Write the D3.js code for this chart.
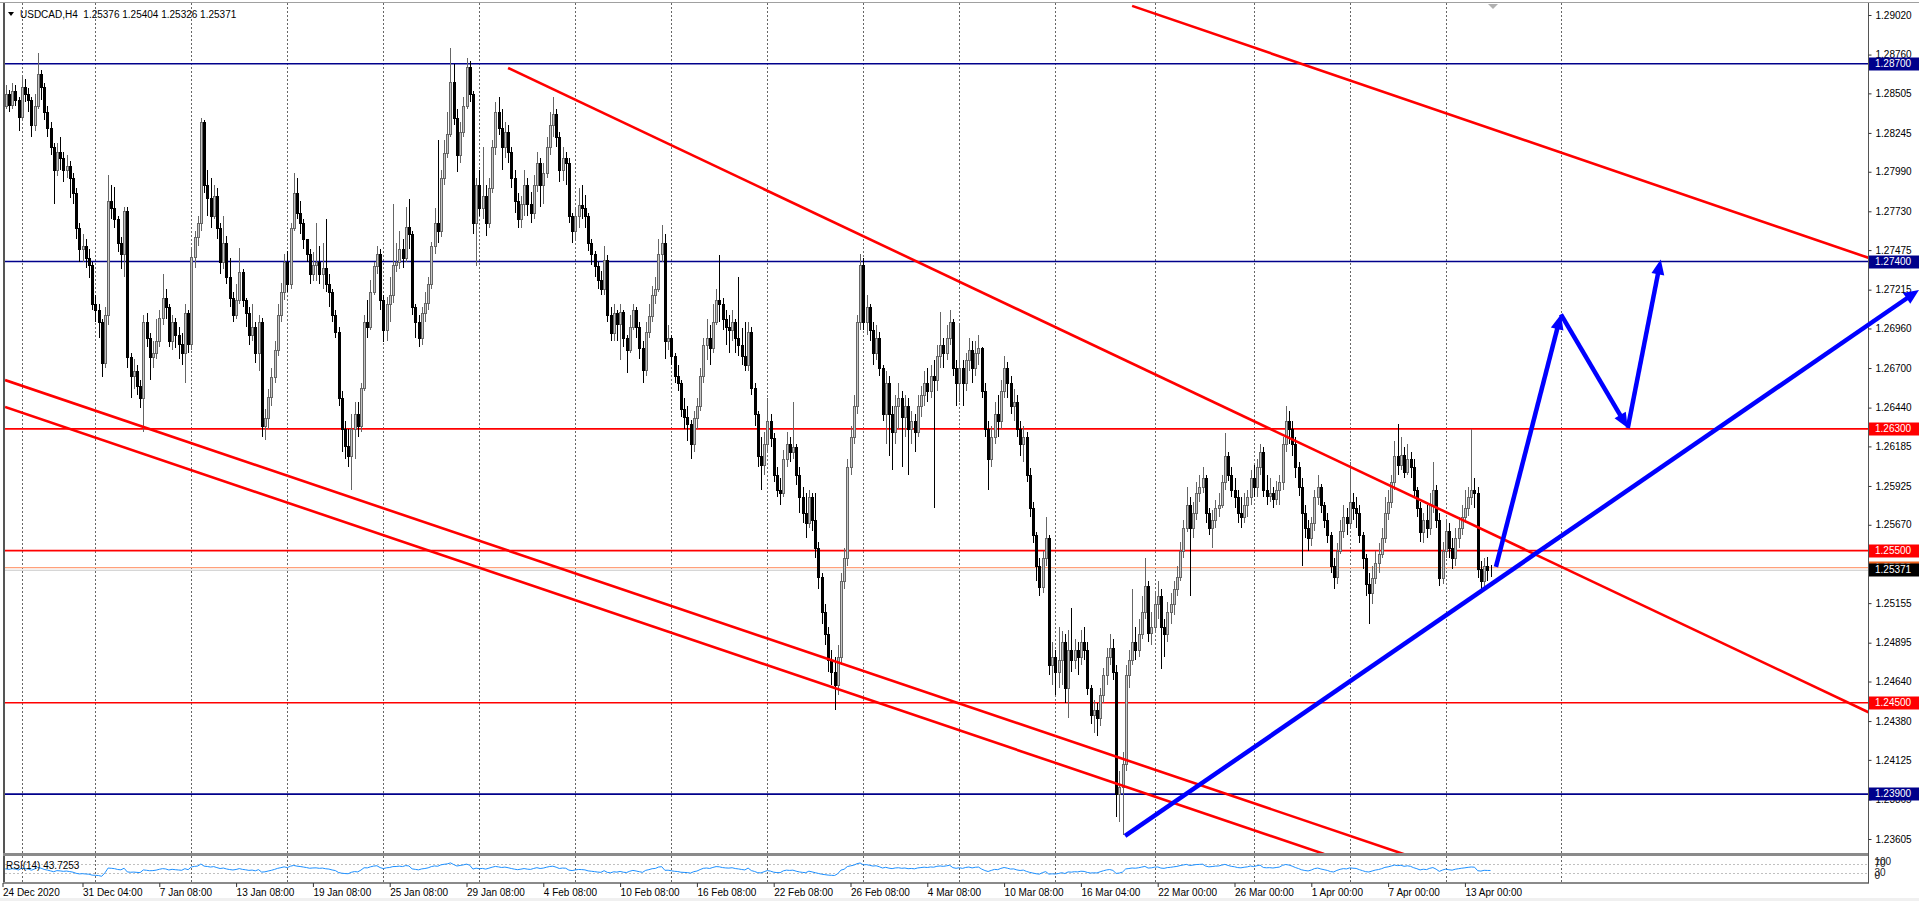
<!DOCTYPE html>
<html>
<head>
<meta charset="utf-8">
<script src="https://cdn.jsdelivr.net/npm/d3@7"></script>
<style>
  html, body { margin: 0; padding: 0; background: #fff; overflow: hidden; }
  svg { display: block; font-family: "Liberation Sans", Arial, sans-serif; }
</style>
</head>
<body>
<svg id="chart" width="1919" height="901"></svg>
<script>
// USDCAD H4 candles, one value per bar (open = previous close)
const firstOpen = 1.2850;

const closes = [
1.2842,1.2850,1.2843,1.2852,1.2846,1.2835,1.2855,1.2850,1.2846,1.2830,
1.2842,1.2863,1.2855,1.2838,1.2828,1.2815,1.2800,1.2812,1.2808,1.2800,
1.2803,1.2795,1.2785,1.2762,1.2748,1.2750,1.2742,1.2738,1.2712,1.2708,
1.2700,1.2673,1.2705,1.2780,1.2775,1.2768,1.2752,1.2745,1.2773,1.2677,
1.2665,1.2668,1.2658,1.2650,1.2700,1.2690,1.2677,1.2680,1.2688,1.2703,
1.2716,1.2710,1.2688,1.2700,1.2692,1.2686,1.2680,1.2706,1.2686,1.2743,
1.2756,1.2765,1.2832,1.2790,1.2782,1.2770,1.2783,1.2762,1.2740,1.2752,
1.2730,1.2716,1.2705,1.2715,1.2733,1.2715,1.2706,1.2692,1.2697,1.2680,
1.2700,1.2632,1.2637,1.2651,1.2664,1.2682,1.2705,1.2720,1.2740,1.2725,
1.2762,1.2785,1.2772,1.2765,1.2755,1.2745,1.2732,1.2738,1.2740,1.2732,
1.2736,1.2725,1.2720,1.2705,1.2694,1.2650,1.2630,1.2619,1.2612,1.2630,
1.2640,1.2632,1.2657,1.2700,1.2697,1.2720,1.2737,1.2745,1.2715,1.2695,
1.2712,1.2718,1.2738,1.2740,1.2748,1.2742,1.2763,1.2758,1.2710,1.2700,
1.2690,1.2706,1.2713,1.2725,1.2750,1.2765,1.2760,1.2795,1.2811,1.2824,
1.2858,1.2834,1.2810,1.2825,1.2842,1.2868,1.2850,1.2765,1.2790,1.2775,
1.2783,1.2765,1.2788,1.2815,1.2838,1.2828,1.2815,1.2825,1.2812,1.2795,
1.2780,1.2768,1.2778,1.2790,1.2778,1.2772,1.2790,1.2805,1.2790,1.2798,
1.2815,1.2830,1.2837,1.2822,1.2800,1.2808,1.2805,1.2770,1.2760,1.2770,
1.2777,1.2775,1.2770,1.2752,1.2745,1.2737,1.2728,1.2722,1.2741,1.2705,
1.2693,1.2706,1.2699,1.2707,1.2690,1.2682,1.2697,1.2708,1.2697,1.2683,
1.2669,1.2694,1.2704,1.2718,1.2722,1.2745,1.2752,1.2688,1.2690,1.2678,
1.2665,1.2660,1.2643,1.2638,1.2633,1.2620,1.2637,1.2645,1.2665,1.2685,
1.2690,1.2683,1.2700,1.2715,1.2712,1.2702,1.2697,1.2695,1.2700,1.2690,
1.2685,1.2678,1.2672,1.2694,1.2657,1.2640,1.2612,1.2606,1.2620,1.2635,
1.2624,1.2600,1.2590,1.2588,1.2610,1.2620,1.2615,1.2618,1.2600,1.2585,
1.2575,1.2568,1.2585,1.2570,1.2552,1.2533,1.2510,1.2495,1.2478,1.2470,
1.2462,1.2480,1.2530,1.2545,1.2605,1.2625,1.2645,1.2700,1.2738,1.2700,
1.2710,1.2695,1.2680,1.2690,1.2670,1.2640,1.2660,1.2640,1.2628,1.2645,
1.2650,1.2638,1.2645,1.2630,1.2635,1.2628,1.2645,1.2652,1.2660,1.2655,
1.2665,1.2662,1.2678,1.2685,1.2680,1.2690,1.2700,1.2670,1.2660,1.2670,
1.2660,1.2675,1.2682,1.2670,1.2680,1.2683,1.2655,1.2630,1.2610,1.2625,
1.2640,1.2635,1.2655,1.2670,1.2660,1.2645,1.2648,1.2630,1.2620,1.2625,
1.2600,1.2578,1.2560,1.2540,1.2526,1.2545,1.2558,1.2475,1.2480,1.2470,
1.2478,1.2490,1.2460,1.2485,1.2478,1.2485,1.2480,1.2490,1.2485,1.2460,
1.2442,1.2445,1.2440,1.2455,1.2468,1.2480,1.2486,1.2470,1.2390,1.2395,
1.2410,1.2468,1.2478,1.2490,1.2485,1.2495,1.2510,1.2527,1.2496,1.2500,
1.2515,1.2520,1.2500,1.2495,1.2510,1.2515,1.2525,1.2533,1.2550,1.2565,
1.2580,1.2565,1.2575,1.2588,1.2592,1.2598,1.2575,1.2565,1.2570,1.2578,
1.2580,1.2595,1.2612,1.2600,1.2590,1.2585,1.2575,1.2572,1.2580,1.2585,
1.2598,1.2592,1.2605,1.2615,1.2590,1.2586,1.2588,1.2584,1.2590,1.2595,
1.2620,1.2635,1.2630,1.2620,1.2605,1.2592,1.2575,1.2565,1.2558,1.2568,
1.2585,1.2592,1.2580,1.2570,1.2560,1.2540,1.2533,1.2550,1.2563,1.2572,
1.2568,1.2582,1.2578,1.2575,1.2560,1.2545,1.2528,1.2522,1.2532,1.2542,
1.2548,1.2558,1.2575,1.2582,1.2595,1.2612,1.2606,1.2613,1.2602,1.2610,
1.2605,1.2590,1.2578,1.2562,1.2570,1.2565,1.2580,1.2590,1.2570,1.2532,
1.2550,1.2563,1.2552,1.2545,1.2558,1.2565,1.2572,1.2578,1.2585,1.2590,
1.2588,1.2538,1.2530,1.2540,1.25376,1.25371
];

const highs = [
1.2855,1.2856,1.2853,1.2857,1.2856,1.2848,1.2862,1.2860,1.2854,1.2848,
1.2850,1.2877,1.2866,1.2857,1.2842,1.2832,1.2818,1.2818,1.2822,1.2812,
1.2810,1.2806,1.2798,1.2788,1.2765,1.2758,1.2755,1.2748,1.2740,1.2718,
1.2712,1.2702,1.2710,1.2797,1.2790,1.2789,1.2770,1.2756,1.2776,1.2776,
1.2680,1.2676,1.2672,1.2662,1.2705,1.2706,1.2693,1.2688,1.2702,1.2708,
1.2732,1.2722,1.2712,1.2705,1.2703,1.2697,1.2693,1.2712,1.2708,1.2748,
1.2760,1.2770,1.2834,1.2833,1.2800,1.2795,1.2790,1.2788,1.2765,1.2770,
1.2757,1.2742,1.2720,1.2725,1.2749,1.2735,1.2716,1.2710,1.2712,1.2700,
1.2705,1.2703,1.2643,1.2656,1.2670,1.2688,1.2712,1.2726,1.2745,1.2747,
1.2765,1.2798,1.2795,1.2780,1.2768,1.2755,1.2748,1.2746,1.2765,1.2750,
1.2752,1.2768,1.2732,1.2722,1.2708,1.2697,1.2655,1.2635,1.2630,1.2640,
1.2648,1.2648,1.2660,1.2705,1.2715,1.2728,1.2740,1.2750,1.2748,1.2718,
1.2717,1.2730,1.2778,1.2752,1.2760,1.2755,1.2776,1.2781,1.2760,1.2712,
1.2705,1.2710,1.2720,1.2730,1.2753,1.2775,1.2820,1.2800,1.2820,1.2838,
1.2880,1.2870,1.2840,1.2832,1.2848,1.2874,1.2872,1.2852,1.2795,1.2800,
1.2815,1.2790,1.2795,1.2820,1.2845,1.2848,1.2840,1.2832,1.2830,1.2815,
1.2800,1.2785,1.2783,1.2800,1.2795,1.2786,1.2797,1.2812,1.2808,1.2805,
1.2822,1.2838,1.2848,1.2840,1.2825,1.2815,1.2812,1.2808,1.2772,1.2775,
1.2788,1.2790,1.2784,1.2772,1.2755,1.2747,1.2740,1.2734,1.2750,1.2744,
1.2710,1.2712,1.2708,1.2712,1.2708,1.2692,1.2705,1.2712,1.2710,1.2700,
1.2688,1.2700,1.2712,1.2724,1.2730,1.2755,1.2764,1.2758,1.2698,1.2692,
1.2680,1.2672,1.2662,1.2650,1.2645,1.2636,1.2642,1.2650,1.2670,1.2690,
1.2702,1.2698,1.2712,1.2722,1.2744,1.2716,1.2708,1.2705,1.2708,1.2702,
1.2730,1.2696,1.2700,1.2700,1.2697,1.2660,1.2642,1.2625,1.2628,1.2650,
1.2640,1.2627,1.2605,1.2598,1.2616,1.2628,1.2625,1.2648,1.2620,1.2605,
1.2592,1.2588,1.2590,1.2588,1.2588,1.2556,1.2535,1.2515,1.2500,1.2485,
1.2480,1.2488,1.2535,1.2552,1.2610,1.2632,1.2652,1.2705,1.2745,1.2742,
1.2718,1.2712,1.2700,1.2698,1.2694,1.2672,1.2668,1.2665,1.2645,1.2652,
1.2660,1.2655,1.2652,1.2650,1.2642,1.2640,1.2652,1.2658,1.2668,1.2670,
1.2672,1.2675,1.2685,1.2707,1.2690,1.2698,1.2708,1.2702,1.2675,1.2698,
1.2675,1.2680,1.2690,1.2688,1.2688,1.2692,1.2684,1.2660,1.2635,1.2632,
1.2648,1.2652,1.2662,1.2678,1.2674,1.2665,1.2656,1.2652,1.2635,1.2632,
1.2628,1.2604,1.2582,1.2562,1.2545,1.2550,1.2572,1.2560,1.2490,1.2485,
1.2500,1.2497,1.2495,1.2498,1.2512,1.2492,1.2490,1.2498,1.2500,1.2490,
1.2462,1.2452,1.2450,1.2460,1.2473,1.2486,1.2495,1.2492,1.2475,1.2405,
1.2418,1.2475,1.2485,1.2525,1.2500,1.2505,1.2520,1.2545,1.2530,1.2510,
1.2522,1.2530,1.2525,1.2505,1.2516,1.2522,1.2530,1.2540,1.2556,1.2570,
1.2592,1.2585,1.2582,1.2595,1.2600,1.2605,1.2600,1.2578,1.2577,1.2583,
1.2588,1.2600,1.2627,1.2615,1.2605,1.2598,1.2590,1.2585,1.2588,1.2590,
1.2603,1.2606,1.2610,1.2620,1.2618,1.2600,1.2598,1.2592,1.2596,1.2600,
1.2625,1.2645,1.2642,1.2635,1.2625,1.2608,1.2598,1.2580,1.2570,1.2572,
1.2590,1.2600,1.2594,1.2582,1.2575,1.2562,1.2545,1.2555,1.2570,1.2580,
1.2578,1.2608,1.2588,1.2585,1.2580,1.2562,1.2548,1.2535,1.2540,1.2550,
1.2555,1.2565,1.2585,1.2590,1.2600,1.2622,1.2633,1.2625,1.2618,1.2620,
1.2615,1.2610,1.2592,1.2582,1.2575,1.2580,1.2588,1.2608,1.2593,1.2575,
1.2556,1.2570,1.2568,1.2558,1.2565,1.2572,1.2580,1.2590,1.2592,1.2630,
1.2598,1.2592,1.2543,1.2545,1.2546,1.25404
];

const lows = [
1.2836,1.2840,1.2838,1.2840,1.2842,1.2826,1.2833,1.2845,1.2838,1.2822,
1.2826,1.2840,1.2846,1.2833,1.2822,1.2810,1.2778,1.2796,1.2800,1.2792,
1.2795,1.2782,1.2778,1.2755,1.2740,1.2740,1.2736,1.2729,1.2708,1.2700,
1.2690,1.2664,1.2670,1.2698,1.2768,1.2762,1.2746,1.2735,1.2730,1.2670,
1.2650,1.2656,1.2652,1.2644,1.2628,1.2684,1.2662,1.2670,1.2676,1.2684,
1.2698,1.2702,1.2684,1.2682,1.2683,1.2676,1.2672,1.2660,1.2680,1.2682,
1.2736,1.2750,1.2760,1.2785,1.2770,1.2762,1.2768,1.2755,1.2732,1.2735,
1.2725,1.2710,1.2700,1.2702,1.2712,1.2710,1.2697,1.2685,1.2688,1.2673,
1.2668,1.2625,1.2623,1.2630,1.2645,1.2660,1.2678,1.2700,1.2715,1.2720,
1.2722,1.2760,1.2768,1.2758,1.2748,1.2740,1.2725,1.2727,1.2727,1.2725,
1.2722,1.2720,1.2710,1.2700,1.2690,1.2645,1.2615,1.2610,1.2605,1.2590,
1.2610,1.2625,1.2628,1.2655,1.2690,1.2695,1.2718,1.2732,1.2708,1.2687,
1.2688,1.2700,1.2713,1.2733,1.2735,1.2736,1.2740,1.2748,1.2705,1.2690,
1.2684,1.2685,1.2700,1.2708,1.2722,1.2745,1.2752,1.2756,1.2790,1.2808,
1.2822,1.2830,1.2799,1.2805,1.2822,1.2840,1.2845,1.2758,1.2737,1.2770,
1.2768,1.2757,1.2762,1.2785,1.2810,1.2823,1.2800,1.2808,1.2805,1.2788,
1.2772,1.2762,1.2762,1.2770,1.2770,1.2765,1.2768,1.2786,1.2776,1.2778,
1.2795,1.2810,1.2822,1.2815,1.2792,1.2793,1.2790,1.2765,1.2752,1.2755,
1.2762,1.2768,1.2762,1.2747,1.2738,1.2730,1.2722,1.2718,1.2718,1.2700,
1.2688,1.2688,1.2688,1.2675,1.2684,1.2667,1.2680,1.2695,1.2690,1.2676,
1.2660,1.2665,1.2690,1.2700,1.2712,1.2720,1.2740,1.2676,1.2682,1.2672,
1.2660,1.2655,1.2638,1.2630,1.2622,1.2610,1.2615,1.2630,1.2642,1.2660,
1.2675,1.2672,1.2680,1.2698,1.2700,1.2695,1.2685,1.2680,1.2688,1.2680,
1.2678,1.2672,1.2668,1.2668,1.2652,1.2632,1.2605,1.2590,1.2600,1.2615,
1.2618,1.2595,1.2585,1.2580,1.2585,1.2605,1.2608,1.2610,1.2593,1.2575,
1.2568,1.2558,1.2565,1.2563,1.2545,1.2525,1.2502,1.2488,1.2470,1.2462,
1.2445,1.2455,1.2475,1.2525,1.2540,1.2600,1.2620,1.2640,1.2695,1.2695,
1.2692,1.2688,1.2672,1.2675,1.2665,1.2635,1.2620,1.2612,1.2603,1.2620,
1.2630,1.2605,1.2625,1.2600,1.2620,1.2615,1.2625,1.2638,1.2645,1.2648,
1.2650,1.2578,1.2655,1.2670,1.2670,1.2675,1.2685,1.2665,1.2645,1.2648,
1.2645,1.2655,1.2668,1.2660,1.2665,1.2672,1.2650,1.2625,1.2590,1.2605,
1.2620,1.2625,1.2630,1.2650,1.2650,1.2640,1.2635,1.2625,1.2612,1.2608,
1.2595,1.2572,1.2555,1.2530,1.2520,1.2522,1.2540,1.2468,1.2462,1.2455,
1.2460,1.2462,1.2450,1.2440,1.2470,1.2472,1.2468,1.2475,1.2478,1.2455,
1.2436,1.2430,1.2428,1.2435,1.2450,1.2462,1.2475,1.2465,1.2375,1.2372,
1.2363,1.2405,1.2460,1.2475,1.2478,1.2480,1.2492,1.2505,1.2490,1.2488,
1.2496,1.2505,1.2472,1.2480,1.2490,1.2502,1.2508,1.2520,1.2530,1.2545,
1.2562,1.2520,1.2558,1.2570,1.2582,1.2588,1.2568,1.2560,1.2552,1.2565,
1.2572,1.2578,1.2590,1.2596,1.2585,1.2578,1.2568,1.2565,1.2568,1.2572,
1.2580,1.2585,1.2585,1.2600,1.2585,1.2580,1.2582,1.2578,1.2580,1.2580,
1.2590,1.2615,1.2620,1.2612,1.2598,1.2586,1.2540,1.2558,1.2550,1.2553,
1.2563,1.2580,1.2575,1.2565,1.2555,1.2535,1.2525,1.2528,1.2548,1.2558,
1.2560,1.2565,1.2570,1.2565,1.2555,1.2538,1.2520,1.2502,1.2515,1.2528,
1.2535,1.2545,1.2555,1.2570,1.2578,1.2590,1.2600,1.2603,1.2598,1.2600,
1.2598,1.2585,1.2572,1.2556,1.2555,1.2558,1.2560,1.2575,1.2565,1.2527,
1.2528,1.2545,1.2545,1.2538,1.2540,1.2552,1.2560,1.2568,1.2573,1.2580,
1.2578,1.2532,1.2522,1.2525,1.2530,1.25326
];

// axes (the 1.25415 step sits under the bid/ask boxes and is not visible)
const priceTicks = [1.29020,1.28760,1.28505,1.28245,1.27990,1.27730,1.27475,1.27215,1.26960,1.26700,
  1.26440,1.26185,1.25925,1.25670,1.25155,1.24895,1.24640,1.24380,1.24125,1.23865,1.23605];
const timeLabels = ["24 Dec 2020","31 Dec 04:00","7 Jan 08:00","13 Jan 08:00","19 Jan 08:00","25 Jan 08:00",
  "29 Jan 08:00","4 Feb 08:00","10 Feb 08:00","16 Feb 08:00","22 Feb 08:00","26 Feb 08:00","4 Mar 08:00",
  "10 Mar 08:00","16 Mar 04:00","22 Mar 00:00","26 Mar 00:00","1 Apr 00:00","7 Apr 00:00","13 Apr 00:00"];
const timeLabelBars = [0,25,49,73,97,121,145,169,193,217,241,265,289,313,337,361,385,409,433,457];
const weekStartBars = [6,29,59,89,119,149,179,209,239,269,299,329,360,391,421,451,487];
const rsiLevels = [70, 30];
const rsiAxisTicks = [100, 70, 30, 0];

// drawn objects (bar index, price)
const bluePrices = [1.2870, 1.2740, 1.2390];
const redPrices = [1.2630, 1.2550, 1.2450];
const askPrice = 1.25388;
const bidPrice = 1.25371;
const redTopLine = [[353.0, 1.2908], [583.3, 1.27423]];
const redMidLine = [[158.0, 1.28672], [583.3, 1.24436]];
const channelUpper = [[0.8, 1.26621], [438.3, 1.23503]];
const channelLower = [[0.8, 1.26444], [413.0, 1.23507]];
const blueTrend = [[350.8, 1.23625], [598.9, 1.27213]];
const zigzag = [[466.7, 1.25393], [487.0, 1.27052], [507.9, 1.26306], [518.2, 1.27413]];

const headerText = "USDCAD,H4  1.25376 1.25404 1.25326 1.25371";
const rsiText = "RSI(14) 43.7253";

// ---------- drawing ----------
const svg = d3.select("#chart");
const W = 1919, H = 901;
const axisX = 1868.5, mainTop = 3, mainBottom = 853, rsiTop = 856, rsiBottom = 882;

const x = d3.scaleLinear().domain([0, 100]).range([2.5, 322.5]);
const y = d3.scaleLinear().domain([1.29020, 1.23605]).range([15, 839]);
const yr = d3.scaleLinear().domain([0, 100]).range([880, 857]);

svg.append("rect").attr("width", W).attr("height", H).attr("fill", "#fff");

const defs = svg.append("defs");
defs.append("clipPath").attr("id", "mainClip").append("rect")
  .attr("x", 5).attr("y", mainTop + 0.5).attr("width", axisX - 5).attr("height", mainBottom - mainTop - 0.5);
defs.append("clipPath").attr("id", "rsiClip").append("rect")
  .attr("x", 5).attr("y", rsiTop).attr("width", axisX - 5).attr("height", rsiBottom - rsiTop);

// week grid (dotted)
const grid = svg.append("g").attr("stroke", "#666").attr("stroke-dasharray", "2,2").attr("shape-rendering", "crispEdges");
weekStartBars.forEach(b => {
  const gx = Math.round(x(b)) + 0.5;
  grid.append("line").attr("x1", gx).attr("x2", gx).attr("y1", mainTop).attr("y2", mainBottom);
  grid.append("line").attr("x1", gx).attr("x2", gx).attr("y1", rsiTop).attr("y2", rsiBottom);
});

const main = svg.append("g").attr("clip-path", "url(#mainClip)");

// horizontal levels
const hline = (p, color, w) => main.append("line")
  .attr("x1", 5).attr("x2", axisX).attr("y1", y(p)).attr("y2", y(p))
  .attr("stroke", color).attr("stroke-width", w);
hline(bidPrice, "#c8c8c8", 1.2);
hline(askPrice, "#ffa07a", 1.2);
bluePrices.forEach(p => hline(p, "#00008b", 1.6));
redPrices.forEach(p => hline(p, "#ff0000", 1.6));

// candles
const candles = closes.map((c, i) => {
  const o = i === 0 ? firstOpen : closes[i - 1];
  return { i, o, c, h: Math.max(highs[i], o, c), l: Math.min(lows[i], o, c) };
});
const cg = main.append("g").attr("shape-rendering", "crispEdges");
candles.forEach(d => {
  const cx = Math.round(x(d.i));
  const bull = d.c >= d.o;
  const col = bull ? "#666" : "#000";
  cg.append("line").attr("x1", cx + 0.5).attr("x2", cx + 0.5)
    .attr("y1", y(d.h)).attr("y2", y(d.l)).attr("stroke", col);
  const top = Math.round(y(Math.max(d.o, d.c))), bot = Math.round(y(Math.min(d.o, d.c)));
  cg.append("rect").attr("x", cx - 0.5).attr("y", top + 0.5)
    .attr("width", 2).attr("height", Math.max(bot - top, 0))
    .attr("fill", bull ? "#c4c4c4" : "#000").attr("stroke", col);
});

// red trend lines
const seg = (g, pts, color, w) => g.append("line")
  .attr("x1", x(pts[0][0])).attr("y1", y(pts[0][1]))
  .attr("x2", x(pts[1][0])).attr("y2", y(pts[1][1]))
  .attr("stroke", color).attr("stroke-width", w).attr("stroke-linecap", "butt");
[redTopLine, redMidLine, channelUpper, channelLower].forEach(l => seg(main, l, "#ff0000", 2.6));

// chart-shift marker
svg.append("path").attr("d", "M1488,4L1498,4L1493,9Z").attr("fill", "#b0b0b0");

// RSI pane
const rsi = [];
(function () {
  const n = 14;
  let ag = 0, al = 0;
  for (let i = 1; i <= n; i++) {
    const ch = closes[i] - closes[i - 1];
    ag += Math.max(ch, 0) / n; al += Math.max(-ch, 0) / n;
  }
  rsi.push(100 - 100 / (1 + ag / al));
  for (let i = 1; i < closes.length; i++) {
    const ch = closes[i] - closes[i - 1];
    ag = (ag * (n - 1) + Math.max(ch, 0)) / n;
    al = (al * (n - 1) + Math.max(-ch, 0)) / n;
    rsi.push(al === 0 ? 100 : 100 - 100 / (1 + ag / al));
  }
})();
const rg = svg.append("g").attr("clip-path", "url(#rsiClip)");
rsiLevels.forEach(v => rg.append("line").attr("x1", 5).attr("x2", axisX)
  .attr("y1", Math.round(yr(v)) + 0.5).attr("y2", Math.round(yr(v)) + 0.5)
  .attr("stroke", "#c0c0c0").attr("stroke-dasharray", "2,2"));
rg.append("path").datum(rsi)
  .attr("d", d3.line().x((d, i) => x(i)).y(d => yr(d)))
  .attr("fill", "none").attr("stroke", "#1e90ff").attr("stroke-width", 1);
svg.append("text").attr("x", 6).attr("y", 869).attr("font-size", 10).attr("fill", "#000").text(rsiText);

// frames
const frame = svg.append("g").attr("shape-rendering", "crispEdges");
frame.append("line").attr("x1", 0).attr("x2", W).attr("y1", 2.5).attr("y2", 2.5).attr("stroke", "#a0a0a0");
frame.append("rect").attr("x", 3).attr("y", mainTop).attr("width", 2).attr("height", rsiBottom - mainTop).attr("fill", "#555");
frame.append("rect").attr("x", 3).attr("y", mainBottom).attr("width", axisX - 3).attr("height", 3).attr("fill", "#8a8a8a");
frame.append("rect").attr("x", 3).attr("y", rsiBottom).attr("width", axisX - 3).attr("height", 1.5).attr("fill", "#8a8a8a");
frame.append("line").attr("x1", axisX).attr("x2", axisX).attr("y1", mainTop).attr("y2", rsiBottom + 1).attr("stroke", "#555");
svg.append("rect").attr("x", 0).attr("y", 898).attr("width", W).attr("height", 3).attr("fill", "#f0f0f0");

// price axis
const fontFam = "'Liberation Sans', Arial, sans-serif";
const gY = svg.append("g").attr("transform", `translate(${axisX},0)`)
  .call(d3.axisRight(y).tickValues(priceTicks).tickFormat(d3.format(".5f")).tickSize(3).tickPadding(4));
gY.select(".domain").remove();
gY.attr("font-family", fontFam).attr("font-size", 10);
gY.selectAll("line").attr("stroke", "#333");
gY.selectAll("text").attr("fill", "#000");

// price label boxes
const box = (p, fill, txt) => {
  const g = svg.append("g").attr("transform", `translate(${axisX + 0.5},${Math.round(y(p))})`);
  g.append("rect").attr("x", 0).attr("y", -6.5).attr("width", W - axisX).attr("height", 13).attr("fill", fill);
  g.append("text").attr("x", 6).attr("dy", "0.34em").attr("font-size", 10).attr("font-family", fontFam)
    .attr("fill", "#fff").text(txt);
};
const fmt = d3.format(".5f");
bluePrices.forEach(p => box(p, "#00008b", fmt(p)));
redPrices.forEach(p => box(p, "#ff0000", fmt(p)));
box(askPrice, "#f0641e", fmt(askPrice));
box(bidPrice, "#000", fmt(bidPrice));

// RSI axis labels (clamped inside the pane like the terminal does)
const gR = svg.append("g").attr("transform", `translate(${axisX},0)`)
  .call(d3.axisRight(yr).tickValues(rsiAxisTicks).tickSize(0).tickPadding(6));
gR.select(".domain").remove();
gR.attr("font-family", fontFam).attr("font-size", 10);
gR.selectAll(".tick").attr("transform", d => `translate(0,${Math.min(Math.max(yr(d), rsiTop + 6), rsiBottom - 6)})`);
gR.selectAll("text").attr("fill", "#222");

// time axis
const gX = svg.append("g").attr("transform", `translate(0,${rsiBottom + 1})`)
  .call(d3.axisBottom(x).tickValues(timeLabelBars).tickFormat((d, i) => timeLabels[i]).tickSize(4).tickPadding(2));
gX.select(".domain").remove();
gX.attr("font-family", fontFam).attr("font-size", 10);
gX.selectAll("line").attr("stroke", "#333");
gX.selectAll("text").attr("text-anchor", "start").attr("x", 0).attr("fill", "#000");

// header
svg.append("path").attr("d", "M8,12L14,12L11,16Z").attr("fill", "#000");
svg.append("text").attr("x", 20).attr("y", 18).attr("font-size", 10).attr("font-family", fontFam)
  .style("white-space", "pre").attr("fill", "#000").text(headerText);

// blue arrows (drawn last, the long one runs over the price scale)
function arrow(g, p0, p1) {
  const x0 = x(p0[0]), y0 = y(p0[1]), x1 = x(p1[0]), y1 = y(p1[1]);
  const dx = x1 - x0, dy = y1 - y0, L = Math.hypot(dx, dy), ux = dx / L, uy = dy / L;
  const hl = 15, hw = 6.5;
  const bx = x1 - ux * hl, by = y1 - uy * hl;
  g.append("line").attr("x1", x0).attr("y1", y0).attr("x2", bx + ux * 3).attr("y2", by + uy * 3)
    .attr("stroke", "#0000ff").attr("stroke-width", 4.5);
  g.append("path").attr("d", `M${x1},${y1}L${bx - uy * hw},${by + ux * hw}L${bx + uy * hw},${by - ux * hw}Z`)
    .attr("fill", "#0000ff");
}
const ag = svg.append("g");
arrow(ag, blueTrend[0], blueTrend[1]);
for (let k = 0; k < zigzag.length - 1; k++) arrow(ag, zigzag[k], zigzag[k + 1]);
</script>
</body>
</html>
